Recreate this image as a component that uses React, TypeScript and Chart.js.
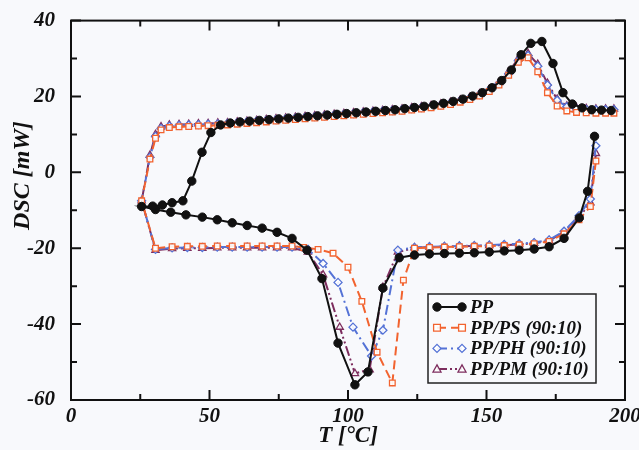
import React, { useEffect, useRef } from 'react';
import { Chart, registerables } from 'chart.js';

Chart.register(...registerables);

// ---------- data ----------
const seriesNames = ['PP', 'PP/PS (90:10)', 'PP/PH (90:10)', 'PP/PM (90:10)'];
const xTitle = 'T [°C]';
const yTitle = 'DSC [mW]';

// PP: cooling run (right to left) followed by heating run (left to right)
const ppT = [189, 186.5, 183.5, 178, 172.6, 167.2, 161.8, 156.4, 151, 145.6, 140.2, 134.8, 129.4, 124, 118.5, 112.6, 107.2, 102.5, 96.4, 90.6, 85.2, 79.8, 74.4, 69, 63.6, 58.2, 52.8, 47.4, 41.5, 36, 30.5, 25.5,
  29.5, 33, 36.5, 40.4, 43.6, 47.3, 50.5, 54, 57.5, 61, 64.5, 68, 71.5, 75, 78.5, 82, 85.5, 89, 92.5, 96, 99.5, 103, 106.5, 110, 113.5, 117, 120.5, 124, 127.5, 131, 134.5, 138, 141.5, 145, 148.5, 152, 155.5, 159, 162.5, 166, 170, 174, 177.6, 181, 184.5, 188, 191.5, 195];
const ppDSC = [9.5, -5, -12, -17.4, -19.6, -20.2, -20.5, -20.7, -21, -21.2, -21.3, -21.4, -21.5, -21.8, -22.5, -30.5, -52.6, -56, -45, -28, -20.5, -17.4, -15.8, -14.7, -14, -13.3, -12.5, -11.8, -11.2, -10.5, -9.8, -9,
  -8.9, -8.6, -8, -7.5, -2.3, 5.3, 10.5, 12.5, 13, 13.3, 13.5, 13.7, 13.9, 14.1, 14.3, 14.5, 14.7, 14.9, 15.1, 15.3, 15.5, 15.7, 15.9, 16.1, 16.3, 16.5, 16.8, 17.1, 17.4, 17.8, 18.2, 18.7, 19.3, 20.1, 21, 22.3, 24.2, 27, 31, 34, 34.5, 28.7, 21, 18, 17, 16.5, 16.4, 16.3];

// blends: shared temperature grids
const coolRightT = [189.5, 187.5, 183.4, 178, 172.6, 167.2, 161.8, 156.4, 151, 145.6, 140.2, 134.8, 129.4, 124];
const coolLeftT = [79.8, 74.4, 69, 63.6, 58.2, 52.8, 47.4, 42, 36.5, 30.5, 25.5];
const heatT = [28.5, 30.5, 32.5, 35.5, 39, 42.5, 46, 49.5, 53, 56.5, 60, 63.5, 67, 70.5, 74, 77.5, 81, 84.5, 88, 91.5, 95, 98.5, 102, 105.5, 109, 112.5, 116, 119.5, 123, 126.5, 130, 133.5, 137, 140.5, 144, 147.5, 151, 154.5, 158, 161.5, 165, 168.5, 172, 175.5, 179, 182.5, 186, 189.5, 193, 196];

// PP/PS
const psCoolRight = [3, -9, -12.5, -16.2, -18.2, -18.8, -19.1, -19.3, -19.4, -19.5, -19.6, -19.7, -19.8, -20];
const psDipT = [120, 116, 110.5, 105, 100, 94.6, 89.2, 84];
const psDip = [-28.4, -55.5, -47.4, -34, -25, -21.3, -20.3, -19.8];
const psCoolLeft = [-19.4, -19.4, -19.4, -19.4, -19.4, -19.4, -19.5, -19.5, -19.6, -20, -7.5];
const psHeat = [3.5, 9, 11.2, 11.8, 12, 12.1, 12.2, 12.3, 12.4, 12.5, 12.7, 12.9, 13.1, 13.3, 13.5, 13.7, 13.9, 14.1, 14.3, 14.5, 14.7, 14.9, 15.1, 15.3, 15.5, 15.7, 15.9, 16.1, 16.4, 16.7, 17, 17.4, 17.9, 18.5, 19.2, 20.1, 21.3, 23, 25.6, 29, 30.2, 26.5, 21, 17.5, 16.2, 15.8, 15.7, 15.6, 15.6, 15.6];

// PP/PH
const phCoolRight = [7, -7, -11.4, -15.5, -17.8, -18.5, -18.8, -19, -19.2, -19.3, -19.4, -19.5, -19.6, -19.8];
const phDipT = [118, 112.6, 108.5, 101.8, 96.4, 91, 85.6];
const phDip = [-20.5, -41.6, -48.4, -40.8, -29, -24, -20.3];
const phCoolLeft = [-19.7, -19.7, -19.7, -19.7, -19.7, -19.7, -19.8, -19.8, -19.9, -20.3, -7.5];
const phHeat = [4, 9.5, 11.6, 12.2, 12.4, 12.5, 12.6, 12.7, 12.8, 12.9, 13.1, 13.3, 13.5, 13.7, 13.9, 14.1, 14.3, 14.5, 14.7, 14.9, 15.1, 15.3, 15.5, 15.7, 15.9, 16.1, 16.3, 16.5, 16.8, 17.1, 17.4, 17.8, 18.3, 18.9, 19.6, 20.5, 21.7, 23.4, 26, 29.5, 30.8, 28, 23, 19, 17.3, 16.8, 16.6, 16.5, 16.5, 16.5];

// PP/PM
const pmCoolRight = [5, -8, -11.8, -15.8, -18, -18.7, -19, -19.2, -19.3, -19.4, -19.5, -19.6, -19.7, -19.9];
const pmDipT = [118, 112.6, 107.8, 102.5, 97, 91, 85.5];
const pmDip = [-21, -30.3, -52, -53, -40.8, -27, -21];
const pmCoolLeft = [-19.9, -19.9, -19.9, -19.9, -19.9, -19.9, -20, -20, -20.1, -20.5, -7.5];
const pmHeat = [4.5, 10, 12, 12.5, 12.6, 12.7, 12.8, 12.9, 13, 13.1, 13.3, 13.5, 13.7, 13.9, 14.1, 14.3, 14.5, 14.7, 14.9, 15.1, 15.3, 15.5, 15.7, 15.9, 16.1, 16.3, 16.5, 16.7, 17, 17.3, 17.6, 18, 18.5, 19.1, 19.8, 20.7, 21.9, 23.7, 26.5, 30, 31.3, 28.5, 23.5, 19.3, 17.5, 17, 16.8, 16.7, 16.7, 16.7];

const xMajorTicks = [0, 50, 100, 150, 200];
const xMinorTicks = [25, 75, 125, 175];
const yMajorTicks = [-60, -40, -20, 0, 20, 40];
const yMinorTicks = [-50, -30, -10, 10, 30];

// ---------- helpers ----------
const BG = '#f8f9fc';
const FONT = '"Liberation Serif", "DejaVu Serif", serif';

const zip = (xs: number[], ys: number[]) => xs.map((x, i) => ({ x, y: ys[i] }));

const blendPoints = (coolRight: number[], dipT: number[], dip: number[], coolLeft: number[], heat: number[]) => [
  ...zip(coolRightT, coolRight),
  ...zip(dipT, dip),
  ...zip(coolLeftT, coolLeft),
  ...zip(heatT, heat),
];

function drawMarker(ctx: CanvasRenderingContext2D, style: string, x: number, y: number, r: number, stroke: string, fill: string, lw: number) {
  ctx.save();
  ctx.setLineDash([]);
  ctx.lineWidth = lw;
  ctx.strokeStyle = stroke;
  ctx.fillStyle = fill;
  ctx.beginPath();
  if (style === 'circle') {
    ctx.arc(x, y, r, 0, Math.PI * 2);
  } else if (style === 'rect') {
    const s = r * 0.85;
    ctx.rect(x - s, y - s, 2 * s, 2 * s);
  } else if (style === 'rectRot') {
    ctx.moveTo(x, y - r);
    ctx.lineTo(x + r, y);
    ctx.lineTo(x, y + r);
    ctx.lineTo(x - r, y);
    ctx.closePath();
  } else if (style === 'triangle') {
    const h = r;
    ctx.moveTo(x, y - h);
    ctx.lineTo(x + h * 0.95, y + h * 0.7);
    ctx.lineTo(x - h * 0.95, y + h * 0.7);
    ctx.closePath();
  }
  ctx.fill();
  ctx.stroke();
  ctx.restore();
}

const framePlugin = {
  id: 'frameTicks',
  beforeDraw(chart: any) {
    const { ctx, width, height } = chart;
    ctx.save();
    ctx.fillStyle = BG;
    ctx.fillRect(0, 0, width, height);
    ctx.restore();
  },
  afterDatasetsDraw(chart: any) {
    const { ctx, chartArea } = chart;
    const xs = chart.scales.x;
    const ys = chart.scales.y;
    const { left, right, top, bottom } = chartArea;
    ctx.save();
    ctx.strokeStyle = '#111';
    ctx.lineWidth = 2;
    ctx.setLineDash([]);
    ctx.strokeRect(left, top, right - left, bottom - top);
    const tick = (vals: number[], len: number, horiz: boolean) => {
      vals.forEach((v) => {
        if (horiz) {
          const px = xs.getPixelForValue(v);
          ctx.beginPath();
          ctx.moveTo(px, bottom); ctx.lineTo(px, bottom - len);
          ctx.moveTo(px, top); ctx.lineTo(px, top + len);
          ctx.stroke();
        } else {
          const py = ys.getPixelForValue(v);
          ctx.beginPath();
          ctx.moveTo(left, py); ctx.lineTo(left + len, py);
          ctx.moveTo(right, py); ctx.lineTo(right - len, py);
          ctx.stroke();
        }
      });
    };
    tick(xMajorTicks, 10, true);
    tick(xMinorTicks, 6, true);
    tick(yMajorTicks, 10, false);
    tick(yMinorTicks, 6, false);

    // y-axis title (placed like the original, above centre)
    ctx.save();
    ctx.translate(left - 48, top + 155);
    ctx.rotate(-Math.PI / 2);
    ctx.fillStyle = '#111';
    ctx.font = `italic bold 24px ${FONT}`;
    ctx.textAlign = 'center';
    ctx.textBaseline = 'middle';
    ctx.fillText(yTitle, 0, 0);
    ctx.restore();
    ctx.restore();
  },
};

const legendPlugin = {
  id: 'insideLegend',
  afterDraw(chart: any) {
    const { ctx, chartArea } = chart;
    const w = 168;
    const h = 89;
    const left = chartArea.right - 29 - w;
    const top = chartArea.bottom - 17 - h;
    ctx.save();
    ctx.fillStyle = BG;
    ctx.fillRect(left, top, w, h);
    ctx.strokeStyle = '#222';
    ctx.lineWidth = 1.5;
    ctx.setLineDash([]);
    ctx.strokeRect(left, top, w, h);
    chart.data.datasets.forEach((ds: any, i: number) => {
      const y = top + 13 + i * 20.7;
      ctx.save();
      ctx.strokeStyle = ds.borderColor;
      ctx.lineWidth = ds.borderWidth;
      ctx.setLineDash(ds.borderDash || []);
      ctx.beginPath();
      ctx.moveTo(left + 9, y);
      ctx.lineTo(left + 34, y);
      ctx.stroke();
      ctx.restore();
      drawMarker(ctx, ds.pointStyle, left + 9, y, ds.pointRadius, ds.pointBorderColor, ds.pointBackgroundColor, ds.pointBorderWidth);
      drawMarker(ctx, ds.pointStyle, left + 34, y, ds.pointRadius, ds.pointBorderColor, ds.pointBackgroundColor, ds.pointBorderWidth);
      ctx.fillStyle = '#111';
      ctx.font = `italic bold 19px ${FONT}`;
      ctx.textBaseline = 'middle';
      ctx.textAlign = 'left';
      ctx.fillText(ds.label, left + 42, y + 1);
    });
    ctx.restore();
  },
};

export default function App() {
  const canvasRef = useRef<HTMLCanvasElement | null>(null);

  useEffect(() => {
    document.body.style.margin = '0';
    document.body.style.background = BG;
    const canvas = canvasRef.current;
    if (!canvas) return;

    const black = '#111111';
    const orange = '#f2632f';
    const blue = '#5472d6';
    const purple = '#7d2d5e';

    const chart = new Chart(canvas, {
      type: 'scatter',
      data: {
        datasets: [
          {
            label: seriesNames[0],
            data: zip(ppT, ppDSC),
            showLine: true,
            borderColor: black,
            borderWidth: 2,
            pointStyle: 'circle',
            pointRadius: 4.2,
            pointBorderWidth: 1,
            pointBorderColor: black,
            pointBackgroundColor: black,
          },
          {
            label: seriesNames[1],
            data: blendPoints(psCoolRight, psDipT, psDip, psCoolLeft, psHeat),
            showLine: true,
            borderColor: orange,
            borderWidth: 2,
            borderDash: [9, 5],
            pointStyle: 'rect',
            pointRadius: 4,
            pointBorderWidth: 1.3,
            pointBorderColor: orange,
            pointBackgroundColor: 'rgba(255,255,255,0.9)',
          },
          {
            label: seriesNames[2],
            data: blendPoints(phCoolRight, phDipT, phDip, phCoolLeft, phHeat),
            showLine: true,
            borderColor: blue,
            borderWidth: 2,
            borderDash: [10, 4, 2, 4],
            pointStyle: 'rectRot',
            pointRadius: 4,
            pointBorderWidth: 1.3,
            pointBorderColor: blue,
            pointBackgroundColor: 'rgba(255,255,255,0.9)',
          },
          {
            label: seriesNames[3],
            data: blendPoints(pmCoolRight, pmDipT, pmDip, pmCoolLeft, pmHeat),
            showLine: true,
            borderColor: purple,
            borderWidth: 2,
            borderDash: [10, 3, 2, 3, 2, 3],
            pointStyle: 'triangle',
            pointRadius: 4.2,
            pointBorderWidth: 1.3,
            pointBorderColor: purple,
            pointBackgroundColor: 'rgba(255,255,255,0.9)',
          },
        ],
      },
      options: {
        animation: false,
        responsive: false,
        maintainAspectRatio: false,
        layout: { padding: { top: 20, right: 14, left: 0, bottom: 0 } },
        plugins: {
          legend: { display: false },
          tooltip: { enabled: false },
        },
        scales: {
          x: {
            type: 'linear',
            min: 0,
            max: 200,
            afterFit: (s: any) => { s.height = 50; },
            afterBuildTicks: (s: any) => { s.ticks = xMajorTicks.map((v) => ({ value: v })); },
            grid: { display: false },
            border: { display: false },
            ticks: {
              color: '#111',
              padding: -4,
              font: { family: FONT, size: 21, style: 'italic', weight: 'bold' },
            },
            title: {
              display: true,
              text: xTitle,
              color: '#111',
              padding: { top: 0, bottom: 0 },
              font: { family: FONT, size: 23, style: 'italic', weight: 'bold' },
            },
          },
          y: {
            type: 'linear',
            min: -60,
            max: 40,
            afterFit: (s: any) => { s.width = 71; },
            afterBuildTicks: (s: any) => { s.ticks = yMajorTicks.map((v) => ({ value: v })); },
            grid: { display: false },
            border: { display: false },
            ticks: {
              color: '#111',
              padding: 8,
              font: { family: FONT, size: 21, style: 'italic', weight: 'bold' },
            },
            title: { display: false },
          },
        },
      },
      plugins: [framePlugin, legendPlugin],
    } as any);

    return () => chart.destroy();
  }, []);

  return (
    <div style={{ width: 639, height: 450, background: BG }}>
      <canvas ref={canvasRef} width={639} height={450} style={{ display: 'block', width: 639, height: 450 }} />
    </div>
  );
}
